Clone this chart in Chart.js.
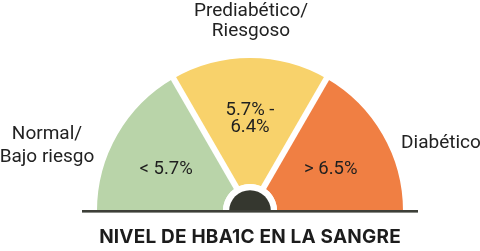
<!DOCTYPE html>
<html>
<head>
<meta charset="utf-8">
<script src="https://cdn.jsdelivr.net/npm/chart.js@4.4.1/dist/chart.umd.min.js"></script>
<style>
    html, body { margin: 0; padding: 0; background: #fff; }
    #wrap { width: 480px; height: 251px; position: relative; }
</style>
</head>
<body>
<div id="wrap"><canvas id="gauge"></canvas></div>
<script>
// gauge data
const categories = ['Normal/\nBajo riesgo', 'Prediabético/\nRiesgoso', 'Diabético'];
const ranges = ['< 5.7%', '5.7% -\n6.4%', '> 6.5%'];
const shares = [1, 1, 1];
const colors = ['#b9d4a9', '#f8d26b', '#f07f43'];
const chartTitle = 'NIVEL DE HBA1C EN LA SANGRE';

const FONT = 'Roboto, "Noto Sans", sans-serif';

function drawLines(ctx, text, x, y, lineHeight) {
    const lines = text.split('\n');
    const top = y - (lines.length - 1) * lineHeight / 2;
    lines.forEach((line, i) => ctx.fillText(line, x, top + i * lineHeight));
}

// draws gaps, hub, baseline and all the texts on top of the arcs
const gaugeDecor = {
    id: 'gaugeDecor',
    afterDatasetsDraw(chart) {
        const ctx = chart.ctx;
        const arcs = chart.getDatasetMeta(0).data;
        const cx = arcs[0].x;
        const cy = arcs[0].y;
        const R = arcs[0].outerRadius;
        const r0 = arcs[0].innerRadius;

        ctx.save();

        // white gaps between the segments
        ctx.strokeStyle = '#ffffff';
        ctx.lineWidth = 6;
        for (let i = 0; i < arcs.length - 1; i++) {
            const a = arcs[i].endAngle;
            ctx.beginPath();
            ctx.moveTo(cx, cy);
            ctx.lineTo(cx + Math.cos(a) * (R + 3), cy + Math.sin(a) * (R + 3));
            ctx.stroke();
        }

        // hub
        ctx.fillStyle = '#ffffff';
        ctx.beginPath();
        ctx.arc(cx, cy, r0, Math.PI, 2 * Math.PI);
        ctx.fill();
        ctx.fillStyle = '#35372f';
        ctx.beginPath();
        ctx.arc(cx, cy, r0 * 0.77, Math.PI, 2 * Math.PI);
        ctx.fill();

        // baseline
        ctx.fillStyle = '#3d3f38';
        ctx.fillRect(cx - R - 15, cy - 1, 2 * R + 30, 2.6);

        // range labels inside the segments
        ctx.fillStyle = '#1f1f1f';
        ctx.font = '18.5px ' + FONT;
        ctx.textAlign = 'center';
        ctx.textBaseline = 'middle';
        arcs.forEach((arc, i) => {
            const mid = (arc.startAngle + arc.endAngle) / 2;
            const rr = R * 0.61;
            const side = i === 1 ? 1 : 5;
            drawLines(ctx, ranges[i], cx + Math.cos(mid) * rr - (i === 0 ? 3 : 0), cy + Math.sin(mid) * rr + side, 17);
        });

        // category labels around the gauge
        ctx.fillStyle = '#222222';
        ctx.font = '19px ' + FONT;
        drawLines(ctx, categories[0], cx - R - 50, cy - 65, 23);
        drawLines(ctx, categories[1], cx + 1, cy - R - 37, 20.5);
        drawLines(ctx, categories[2], cx + R + 38, cy - 68, 22);

        // title
        ctx.fillStyle = '#1c1c1c';
        ctx.font = 'bold 19px Inter, ' + FONT;
        ctx.letterSpacing = '0.2px';
        ctx.fillText(chartTitle, cx, cy + 26);

        ctx.restore();
    }
};

new Chart(document.getElementById('gauge'), {
    type: 'doughnut',
    data: {
        labels: categories,
        datasets: [{
            data: shares,
            backgroundColor: colors,
            borderWidth: 0
        }]
    },
    options: {
        responsive: true,
        maintainAspectRatio: false,
        animation: false,
        rotation: -90,
        circumference: 180,
        cutout: '17.7%',
        layout: {
            padding: {top: 58, bottom: 40, left: 90, right: 70}
        },
        plugins: {
            legend: {display: false},
            tooltip: {enabled: false}
        }
    },
    plugins: [gaugeDecor]
});
</script>
</body>
</html>
